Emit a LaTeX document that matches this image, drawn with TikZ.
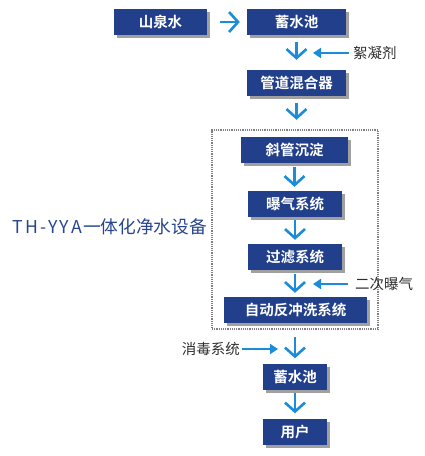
\documentclass[tikz,border=0pt]{standalone}
\usepackage{fontspec}
\setmainfont{Noto Sans CJK SC}
\newfontfamily\cjkbold{Noto Sans CJK SC Bold}
\usetikzlibrary{arrows.meta,shadows}
\definecolor{navy}{HTML}{213F8A}
\definecolor{titleblue}{HTML}{27468F}
\definecolor{arrowblue}{HTML}{1A8CD8}
\definecolor{shadowgray}{HTML}{A0A0A0}
\definecolor{labelgray}{HTML}{2E2E2E}
\begin{document}
\begin{tikzpicture}[x=1pt,y=-1pt,
  procbox/.style={fill=navy, text=white, font=\cjkbold\fontsize{14.5}{16}\selectfont,
    minimum height=26pt, inner sep=0pt, anchor=center,
    drop shadow={shadow xshift=3pt, shadow yshift=-3pt, fill=shadowgray, opacity=1}},
  flow/.style={draw=arrowblue, line width=2.6pt,
    -{Straight Barb[length=9pt,width=20pt,line width=2.6pt]}},
  feed/.style={draw=arrowblue, line width=2.2pt,
    -{Triangle[length=8pt,width=10pt]}},
  sidelabel/.style={text=labelgray, font=\fontsize{14.5}{16}\selectfont, inner sep=0pt},
  groupbox/.style={draw=gray, densely dotted, line width=1.2pt, inner sep=0pt}
]
\useasboundingbox (0,0) rectangle (424,456);

\node[groupbox, minimum width=166pt, minimum height=199pt] (grp) at (295,229.5) {};

\node[procbox, minimum width=93pt] (b1) at (160.5,22) {山泉水};
\node[procbox, minimum width=99pt] (b2) at (296.5,22) {蓄水池};
\node[procbox, minimum width=99pt] (b3) at (296.5,83) {管道混合器};
\node[procbox, minimum width=107pt] (b4) at (294.5,150) {斜管沉淀};
\node[procbox, minimum width=94pt] (b5) at (295,204) {曝气系统};
\node[procbox, minimum width=94pt] (b6) at (295,257) {过滤系统};
\node[procbox, minimum width=143pt] (b7) at (295.5,310) {自动反冲洗系统};
\node[procbox, minimum width=64pt] (b8) at (295,376.5) {蓄水池};
\node[procbox, minimum width=64pt] (b9) at (295,431.5) {用户};

\node[text=titleblue, font=\fontsize{17.7}{20}\selectfont, inner sep=0pt] (title) at (110,227)
  {T\kern2pt H\kern2pt -\kern2pt Y\kern2pt Y\kern2pt A\kern1pt 一体化净水设备};

\draw[flow, shorten <=13pt, shorten >=7pt] (b1) -- (b2);
\draw[flow, shorten <=7pt, shorten >=10pt] (b2.south) -- (b3.north);
\draw[flow, shorten <=7pt, shorten >=17pt] (b3.south) -- (b3.south|-b4.north);
\draw[flow, shorten <=4pt, shorten >=4pt] (b4.south) -- (b4.south|-b5.north);
\draw[flow, shorten <=3pt, shorten >=4pt] (b5.south) -- (b6.north);
\draw[flow, shorten <=4pt, shorten >=4pt] (b6.south) -- (b6.south|-b7.north);
\draw[flow, shorten <=14pt, shorten >=5pt] (b7.south-|b8.north) -- (b8.north);
\draw[flow, shorten <=3pt, shorten >=5pt] (b8.south) -- (b9.north);

\node[sidelabel, anchor=west] (l1) at (353,53) {絮凝剂};
\coordinate (t1) at (313,53);
\draw[feed, shorten <=4pt] (l1.west) -- (t1);

\node[sidelabel, anchor=west] (l2) at (355,284) {二次曝气};
\coordinate (t2) at (313,284);
\draw[feed, shorten <=7pt] (l2.west) -- (t2);

\node[sidelabel, anchor=east] (l3) at (240,349) {消毒系统};
\coordinate (t3) at (278,349);
\draw[feed, shorten <=2pt] (l3.east) -- (t3);
\end{tikzpicture}
\end{document}
